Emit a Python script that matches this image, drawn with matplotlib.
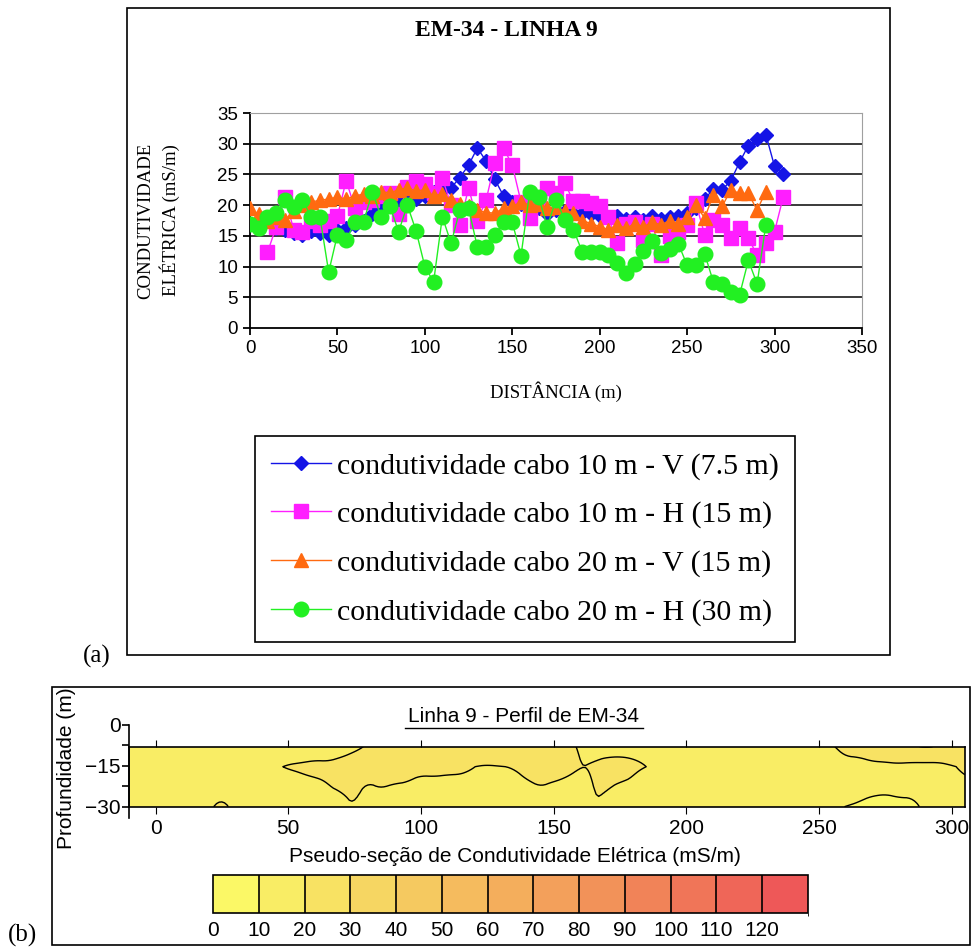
import numpy as np
import matplotlib
matplotlib.use("Agg")
import matplotlib.pyplot as plt
from matplotlib.colors import ListedColormap, BoundaryNorm, LinearSegmentedColormap
from matplotlib.patches import Rectangle
from matplotlib.lines import Line2D
import matplotlib.cm as cm

# ---- data ----
x_v10 = np.arange(15, 310, 5)
cond_v10 = [16.3, 16.0, 15.5, 15.2, 15.8, 15.4, 15.2, 16.0, 16.3, 16.8,
            17.5, 18.5, 19.5, 20.5, 20.8, 21.2, 21.0, 21.5, 22.2, 22.5,
            22.8, 24.5, 26.5, 29.3, 27.2, 24.2, 21.5, 20.5, 20.2, 20.0,
            19.5, 18.5, 19.2, 19.0, 18.8, 18.7, 18.6, 18.3, 18.0, 18.2,
            17.8, 18.0, 17.6, 18.2, 17.7, 18.0, 18.3, 18.7, 19.5, 21.0,
            22.6, 22.5, 24.0, 27.0, 29.7, 30.7, 31.5, 26.3, 25.0]

x_h10 = np.arange(10, 310, 5)
cond_h10 = [12.3, 16.5, 21.3, 16.0, 15.7, 17.5, 16.8, 17.5, 18.2, 24.0,
            19.5, 20.5, 20.8, 21.5, 22.0, 18.5, 23.0, 24.0, 23.5, 22.0,
            24.4, 20.0, 16.8, 22.8, 17.5, 20.8, 26.9, 29.3, 26.5, 20.5,
            17.9, 20.5, 22.8, 22.0, 23.6, 20.6, 20.6, 20.3, 19.8, 18.0,
            13.8, 17.0, 17.3, 14.3, 17.0, 11.9, 15.0, 15.7, 16.8, 20.3,
            15.2, 17.6, 16.8, 14.6, 16.2, 14.6, 11.9, 13.8, 15.7, 21.4]

x_v20 = np.arange(0, 300, 5)
cond_v20 = [19.5, 18.5, 17.5, 18.0, 17.6, 19.0, 20.0, 20.5, 20.8, 21.0,
            21.3, 21.0, 21.5, 21.8, 21.5, 22.2, 22.0, 22.5, 22.8, 22.3,
            22.5, 21.5, 21.8, 20.8, 20.2, 19.8, 19.2, 18.8, 18.7, 19.5,
            19.8, 20.5, 20.0, 20.2, 19.5, 19.7, 19.0, 18.8, 17.5, 17.0,
            16.5, 16.0, 16.8, 16.2, 17.0, 16.5, 17.2, 16.8, 17.5, 17.0,
            18.1, 20.0, 17.9, 21.7, 19.8, 22.5, 21.9, 21.9, 19.2, 22.2]

x_h20 = np.arange(0, 300, 5)
cond_h20 = [17.0, 16.2, 18.1, 18.7, 20.8, 19.7, 20.8, 18.1, 18.1, 9.1,
            15.2, 14.3, 17.3, 17.3, 22.2, 18.1, 19.8, 15.7, 20.0, 15.8,
            10.0, 7.5, 18.1, 13.8, 19.2, 19.5, 13.2, 13.2, 15.1, 17.3,
            17.2, 11.8, 22.2, 21.4, 16.5, 20.9, 17.6, 16.0, 12.4, 12.4,
            12.3, 11.9, 10.6, 8.9, 10.4, 12.5, 14.1, 12.2, 12.9, 13.7,
            10.2, 10.2, 12.1, 7.5, 7.2, 5.9, 5.4, 11.0, 7.2, 16.8]

labels = ["condutividade cabo 10 m - V (7.5 m)",
          "condutividade cabo 10 m - H (15 m)",
          "condutividade cabo 20 m - V (15 m)",
          "condutividade cabo 20 m - H (30 m)"]

level_bounds = np.arange(0, 140, 10)
level_ticks = np.arange(0, 130, 10)

# ---- figure ----
W, H = 972, 949
fig = plt.figure(figsize=(W / 100, H / 100), dpi=100)
SERIF = "Liberation Serif"
SANS = "Liberation Sans"


def box(l, t, r, b):
    return [l / W, 1 - b / H, (r - l) / W, (b - t) / H]


# outer frames
fig.add_artist(Rectangle((127 / W, 1 - 655 / H), (890 - 127) / W, (655 - 8) / H,
                         transform=fig.transFigure, fill=False, ec="black", lw=1.2))
fig.add_artist(Rectangle((52 / W, 1 - 945 / H), (970 - 52) / W, (945 - 687) / H,
                         transform=fig.transFigure, fill=False, ec="black", lw=1.2))

# ---- (a) line chart ----
ax = fig.add_axes(box(250, 113, 862, 328))
ax.plot(x_v10, cond_v10, color="#1414E6", marker="D", ms=7.5, lw=1, label=labels[0], zorder=3)
ax.plot(x_h10, cond_h10, color="#FF1EFF", marker="s", ms=9.5, lw=1, label=labels[1], zorder=4)
ax.plot(x_v20, cond_v20, color="#FF6A10", marker="^", ms=9.5, lw=1, label=labels[2], zorder=5)
ax.plot(x_h20, cond_h20, color="#22F022", marker="o", ms=10.5, lw=1, label=labels[3], zorder=6)
ax.set_xlim(0, 350)
ax.set_ylim(0, 35)
ax.set_xticks(range(0, 351, 50))
ax.set_yticks(range(0, 36, 5))
for y in range(5, 36, 5):
    ax.axhline(y, color="#3a3a3a", lw=1.4, zorder=1)
for s in ["top", "right"]:
    ax.spines[s].set_color("#a0a0a0")
for s in ["left", "bottom"]:
    ax.spines[s].set_linewidth(1.3)
ax.tick_params(direction="out", length=5, width=1.3, labelsize=13.5)
for t in ax.get_xticklabels() + ax.get_yticklabels():
    t.set_fontfamily(SANS)
ax.set_ylabel("CONDUTIVIDADE\nELÉTRICA (mS/m)", fontfamily=SERIF, fontsize=13.5,
              linespacing=1.3, labelpad=27)
ax.set_xlabel("DISTÂNCIA (m)", fontfamily=SERIF, fontsize=13.5, labelpad=18)
fig.text(506 / W, 1 - 30 / H, "EM-34 - LINHA 9", fontfamily=SERIF, fontsize=17,
         fontweight="bold", ha="center", va="center")

leg = ax.legend(loc="center", bbox_to_anchor=(525 / W, 1 - 539 / H),
                bbox_transform=fig.transFigure, prop={"family": SERIF, "size": 21.5},
                frameon=True, fancybox=False, edgecolor="black", framealpha=1,
                handlelength=2.0, handletextpad=0.2, labelspacing=0.72,
                borderpad=0.55)
leg.get_frame().set_linewidth(1.2)

fig.text(97 / W, 1 - 656 / H, "(a)", fontfamily=SERIF, fontsize=18, ha="center", va="center")

# ---- (b) pseudo-section ----
cmap = LinearSegmentedColormap.from_list(
    "em", ["#FBF866", "#F6D662", "#F4AE5C", "#F18458", "#EE5858"])
colors = ListedColormap([cmap(i / 12) for i in range(13)])
norm = BoundaryNorm(level_bounds, colors.N)

xg = np.linspace(-10, 305, 316)


def smooth(row, k=15):
    pad = np.pad(row, k // 2, mode="edge")
    return np.convolve(pad, np.ones(k) / k, mode="valid")


row7 = smooth(np.interp(xg, x_v10, cond_v10))
row15 = smooth((np.interp(xg, x_h10, cond_h10) + np.interp(xg, x_v20, cond_v20)) / 2)
row30 = smooth(np.interp(xg, x_h20, cond_h20))
depths = [-30, -15, -7.5]
zg = np.linspace(-30, -7.5, 46)
Z = np.array([np.interp(zg, depths, [row30[i], row15[i], row7[i]])
              for i in range(len(xg))]).T

axb = fig.add_axes(box(129, 746.7, 965, 806.7))
axb.contourf(xg, zg, Z, levels=level_bounds, cmap=colors, norm=norm)
axb.contour(xg, zg, Z, levels=[10, 20, 30], colors="black", linewidths=1.0)
axb.set_xlim(-10, 305)
axb.set_ylim(-30, -7.5)
axb.set_xticks(range(0, 301, 50))
axb.set_yticks([])
axb.tick_params(axis="x", direction="out", length=5, top=True, labelsize=15)
for t in axb.get_xticklabels():
    t.set_fontfamily(SANS)
for s in axb.spines.values():
    s.set_linewidth(1.2)

axy = fig.add_axes(box(129, 725, 130, 818.3))
axy.set_ylim(-34.3, 0)
axy.set_yticks([0, -15, -30])
axy.set_yticks([-7.5, -22.5], minor=True)
axy.set_xticks([])
axy.patch.set_visible(False)
for s in ["top", "right", "bottom"]:
    axy.spines[s].set_visible(False)
axy.spines["left"].set_linewidth(1.2)
axy.tick_params(axis="y", which="both", direction="out", length=5, width=1.2,
                labelsize=15, pad=1)
for t in axy.get_yticklabels():
    t.set_fontfamily(SANS)

fig.text(66 / W, 1 - 768 / H, "Profundidade (m)", fontfamily=SANS, fontsize=15,
         rotation=90, ha="center", va="center")
fig.text(524 / W, 1 - 717 / H, "Linha 9 - Perfil de EM-34", fontfamily=SANS,
         fontsize=15, ha="center", va="center")
fig.add_artist(Line2D([405 / W, 643 / W], [1 - 728 / H, 1 - 728 / H],
                      transform=fig.transFigure, color="black", lw=1))
fig.text(515 / W, 1 - 857 / H, "Pseudo-seção de Condutividade Elétrica (mS/m)",
         fontfamily=SANS, fontsize=15, ha="center", va="center")

cax = fig.add_axes(box(213, 875, 808, 913))
cb = fig.colorbar(cm.ScalarMappable(norm=norm, cmap=colors), cax=cax,
                  orientation="horizontal", drawedges=True, ticks=level_ticks)
cb.outline.set_linewidth(1.2)
cb.dividers.set_linewidth(1.2)
cax.tick_params(length=0, labelsize=15, pad=6)
for t in cax.get_xticklabels():
    t.set_fontfamily(SANS)

fig.text(22 / W, 1 - 935 / H, "(b)", fontfamily=SERIF, fontsize=18, ha="center", va="center")

fig.savefig("out.png", dpi=100)
